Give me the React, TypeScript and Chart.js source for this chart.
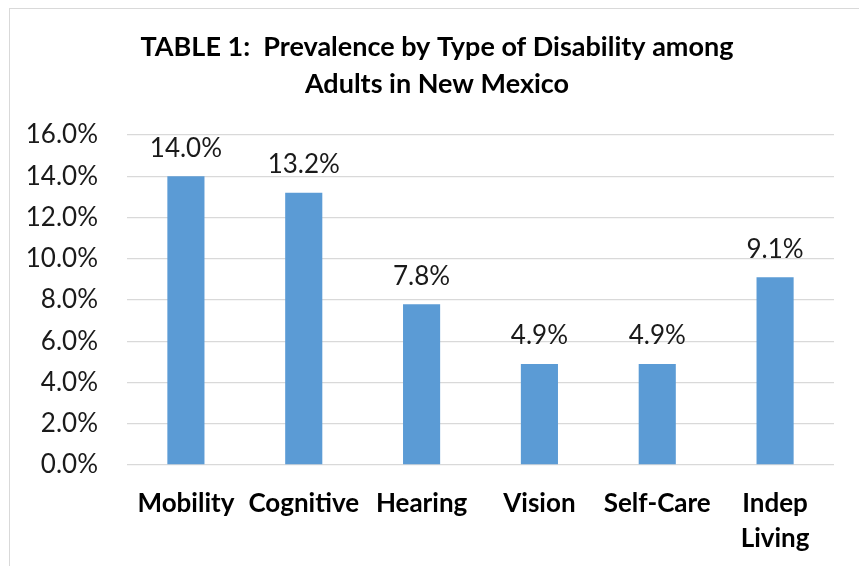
import React, { useEffect, useRef } from "react";
import { Chart, registerables } from "chart.js";

Chart.register(...registerables);

const categories: (string | string[])[] = ["Mobility", "Cognitive", "Hearing", "Vision", "Self-Care", ["Indep", "Living"]];
const prevalence: number[] = [14.0, 13.2, 7.8, 4.9, 4.9, 9.1];
const titleLines: string[] = ["TABLE 1:  Prevalence by Type of Disability among", "Adults in New Mexico"];
const yMin = 0;
const yMax = 16;
const yStep = 2;

const FONT = "Lato, 'Noto Sans', sans-serif";

const valueLabels = {
  id: "valueLabels",
  afterDatasetsDraw(chart: any) {
    const { ctx } = chart;
    const meta = chart.getDatasetMeta(0);
    ctx.save();
    ctx.font = `26px ${FONT}`;
    ctx.fillStyle = "#1a1a1a";
    ctx.textAlign = "center";
    ctx.textBaseline = "middle";
    meta.data.forEach((bar: any, i: number) => {
      const v = chart.data.datasets[0].data[i] as number;
      ctx.fillText(v.toFixed(1) + "%", bar.x, bar.y - 28);
    });
    ctx.restore();
  },
};

export default function App() {
  const ref = useRef<HTMLCanvasElement | null>(null);
  useEffect(() => {
    if (!ref.current) return;
    const chart = new Chart(ref.current, {
      type: "bar",
      data: {
        labels: categories,
        datasets: [
          {
            data: prevalence,
            backgroundColor: "#5B9BD5",
            borderWidth: 0,
            barPercentage: 0.315,
            categoryPercentage: 1,
            yAxisID: "y",
          },
        ],
      },
      options: {
        animation: false,
        responsive: true,
        maintainAspectRatio: false,
        layout: { padding: { left: 0, right: 2, top: 0, bottom: 0 } },
        plugins: {
          legend: { display: false },
          tooltip: { enabled: false },
          title: {
            display: true,
            text: titleLines,
            color: "#000",
            font: { family: FONT, size: 27, weight: "bold", lineHeight: 37 / 27 },
            padding: { top: 19.5, bottom: 32.5 },
          },
        },
        scales: {
          x: {
            grid: { display: false, drawTicks: false },
            border: { display: false },
            ticks: {
              color: "#000",
              font: { family: FONT, size: 26, weight: "bold", lineHeight: 35 / 26 },
              padding: 21,
              maxRotation: 0,
              autoSkip: false,
            },
            afterFit: (s: any) => {
              s.height = 144;
            },
          },
          y: {
            position: "left",
            min: yMin,
            max: yMax,
            grid: { color: "#d9d9d9", lineWidth: 1.3, drawTicks: false },
            border: { display: false },
            ticks: {
              stepSize: yStep,
              color: "#1a1a1a",
              font: { family: FONT, size: 26 },
              padding: 29,
              callback: (v: any) => Number(v).toFixed(1) + "%",
            },
            afterFit: (s: any) => {
              s.width = 117;
            },
          },
          yRight: {
            position: "right",
            min: yMin,
            max: yMax,
            grid: { display: false, drawTicks: false },
            border: { display: false },
            ticks: { display: false },
            afterFit: (s: any) => {
              s.width = 30;
            },
          },
        },
      },
      plugins: [valueLabels],
    });
    return () => chart.destroy();
  }, []);

  return (
    <div style={{ position: "fixed", left: 0, top: 0, width: 859, height: 566, overflow: "hidden", background: "#fff" }}>
      <div
        style={{
          position: "absolute",
          left: 9,
          top: 8,
          width: 856,
          height: 600,
          borderLeft: "1px solid #d9d9d9",
          borderTop: "1px solid #d9d9d9",
        }}
      >
        <canvas ref={ref} />
      </div>
    </div>
  );
}
